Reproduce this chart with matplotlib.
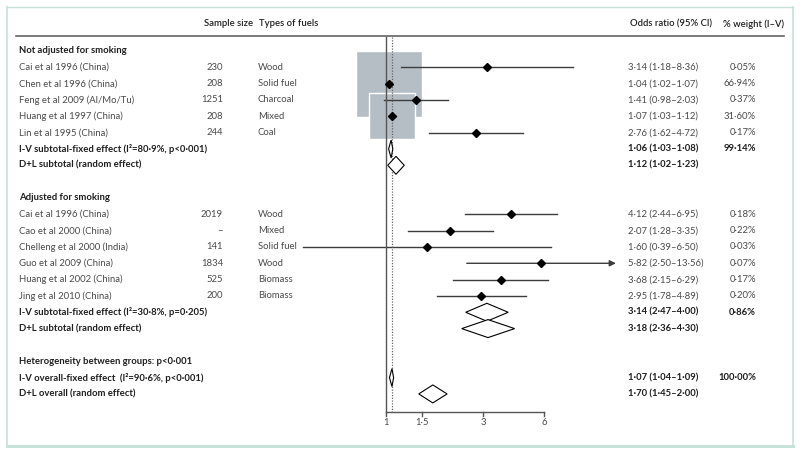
import matplotlib.pyplot as plt
import matplotlib.patches as mpatches
import numpy as np

plt.rcParams['font.family'] = ['Lato', 'DejaVu Sans']

W, H = 800, 453

# not adjusted for smoking
g1_names = ['Cai et al 1996 (China)', 'Chen et al 1996 (China)', 'Feng et al 2009 (Al/Mo/Tu)',
            'Huang et al 1997 (China)', 'Lin et al 1995 (China)']
g1_n = ['230', '208', '1251', '208', '244']
g1_fuel = ['Wood', 'Solid fuel', 'Charcoal', 'Mixed', 'Coal']
g1_or = [3.14, 1.04, 1.41, 1.07, 2.76]
g1_lo = [1.18, 1.02, 0.98, 1.03, 1.62]
g1_hi = [8.36, 1.07, 2.03, 1.12, 4.72]
g1_w = [0.05, 66.94, 0.37, 31.60, 0.17]

# adjusted for smoking
g2_names = ['Cai et al 1996 (China)', 'Cao et al 2000 (China)', 'Chelleng et al 2000 (India)',
            'Guo et al 2009 (China)', 'Huang et al 2002 (China)', 'Jing et al 2010 (China)']
g2_n = ['2019', '\u2013', '141', '1834', '525', '200']
g2_fuel = ['Wood', 'Mixed', 'Solid fuel', 'Wood', 'Biomass', 'Biomass']
g2_or = [4.12, 2.07, 1.60, 5.82, 3.68, 2.95]
g2_lo = [2.44, 1.28, 0.39, 2.50, 2.15, 1.78]
g2_hi = [6.95, 3.35, 6.50, 13.56, 6.29, 4.89]
g2_w = [0.18, 0.22, 0.03, 0.07, 0.17, 0.20]

# summary rows: label, or, lo, hi, weight
sum_labels = ['I-V subtotal-fixed effect (I\u00b2=80\u00b79%, p<0\u00b7001)',
              'D+L subtotal (random effect)',
              'I-V subtotal-fixed effect (I\u00b2=30\u00b78%, p=0\u00b7205)',
              'D+L subtotal (random effect)',
              'I-V overall-fixed effect  (I\u00b2=90\u00b76%, p<0\u00b7001)',
              'D+L overall (random effect)']
sum_or = [1.06, 1.12, 3.14, 3.18, 1.07, 1.70]
sum_lo = [1.03, 1.02, 2.47, 2.36, 1.04, 1.45]
sum_hi = [1.08, 1.23, 4.00, 4.30, 1.09, 2.00]
sum_w = [99.14, None, 0.86, None, 100.00, None]

xticks = [1, 1.5, 3, 6]
xtick_labels = ['1', '1\u00b75', '3', '6']

def fmt(v):
    return f'{v:.2f}'.replace('.', '\u00b7')

def ci_text(o, l, h):
    return f'{fmt(o)} ({fmt(l)}\u2013{fmt(h)})'

# build row list
rows = []
rows.append(dict(kind='head', label='Not adjusted for smoking'))
for i in range(len(g1_names)):
    rows.append(dict(kind='study', label=g1_names[i], n=g1_n[i], fuel=g1_fuel[i],
                     o=g1_or[i], lo=g1_lo[i], hi=g1_hi[i], w=g1_w[i]))
rows.append(dict(kind='sum', label=sum_labels[0], o=sum_or[0], lo=sum_lo[0], hi=sum_hi[0], w=sum_w[0]))
rows.append(dict(kind='sum', label=sum_labels[1], o=sum_or[1], lo=sum_lo[1], hi=sum_hi[1], w=sum_w[1]))
rows.append(dict(kind='blank'))
rows.append(dict(kind='head', label='Adjusted for smoking'))
for i in range(len(g2_names)):
    rows.append(dict(kind='study', label=g2_names[i], n=g2_n[i], fuel=g2_fuel[i],
                     o=g2_or[i], lo=g2_lo[i], hi=g2_hi[i], w=g2_w[i]))
rows.append(dict(kind='sum', label=sum_labels[2], o=sum_or[2], lo=sum_lo[2], hi=sum_hi[2], w=sum_w[2]))
rows.append(dict(kind='sum', label=sum_labels[3], o=sum_or[3], lo=sum_lo[3], hi=sum_hi[3], w=sum_w[3]))
rows.append(dict(kind='blank'))
rows.append(dict(kind='head', label='Heterogeneity between groups: p<0\u00b7001'))
rows.append(dict(kind='sum', label=sum_labels[4], o=sum_or[4], lo=sum_lo[4], hi=sum_hi[4], w=sum_w[4]))
rows.append(dict(kind='sum', label=sum_labels[5], o=sum_or[5], lo=sum_lo[5], hi=sum_hi[5], w=sum_w[5]))

# layout: row k (1-based) sits at pixel 51 + (k-1)*step
step = 16.33
def row_of_px(py):
    return (py - 51) / step + 1

px_per_dec = 203
x0 = 386
fig = plt.figure(figsize=(W / 100, H / 100), dpi=100)
ax = fig.add_axes([0, 0, 1, 1])
ax.set_xscale('log')
ax.set_xlim(10 ** (-x0 / px_per_dec), 10 ** ((W - x0) / px_per_dec))
ax.set_ylim(row_of_px(H), row_of_px(0))
ax.axis('off')
tr = ax.get_yaxis_transform()  # x axes fraction, y data

fs = 6.8
c_txt = '#4a4a4a'
c_bold = '#1e1e1e'
c_line = '#3c3c3c'

# header
yh = row_of_px(24)
ax.text(204 / W, yh, 'Sample size', transform=tr, fontsize=fs, weight='semibold', color=c_bold, va='center')
ax.text(259 / W, yh, 'Types of fuels', transform=tr, fontsize=fs, weight='semibold', color=c_bold, va='center')
ax.text(630 / W, yh, 'Odds ratio (95% CI)', transform=tr, fontsize=fs, weight='semibold', color=c_bold, va='center')
ax.text(784 / W, yh, '% weight (I\u2013V)', transform=tr, fontsize=fs, weight='semibold', color=c_bold, va='center', ha='right')
ax.plot([16 / W, 784 / W], [row_of_px(36)] * 2, transform=tr, color='#555555', lw=1.1)

ytop = row_of_px(37)
ybot = row_of_px(412)
ax.plot([1, 1], [ytop, ybot], color='#555555', lw=1.0, zorder=4)
ax.plot([sum_or[4]] * 2, [ytop, ybot], color='#666666', lw=0.9, ls=(0, (1, 1.2)), zorder=4)

# weight boxes (area ~ weight)
box_scale = 66 / np.sqrt(66.94)
for k, r in enumerate(rows, start=1):
    if r['kind'] == 'study':
        side_pt = box_scale * np.sqrt(r['w']) * 0.72
        ax.scatter([r['o']], [k], marker='s', s=side_pt ** 2, color='#b5bec5',
                   edgecolors='white', linewidths=1.0, zorder=2)

for k, r in enumerate(rows, start=1):
    kind = r['kind']
    if kind == 'blank':
        continue
    bold = kind in ('head', 'sum')
    ax.text(19 / W, k, r['label'], transform=tr, fontsize=fs, va='center',
            weight='bold' if bold else 'normal', color=c_bold if bold else c_txt)
    if kind == 'study':
        ax.text(223 / W, k, r['n'], transform=tr, fontsize=fs, va='center', ha='right', color=c_txt)
        ax.text(258 / W, k, r['fuel'], transform=tr, fontsize=fs, va='center', color=c_txt)
        ax.text(628 / W, k, ci_text(r['o'], r['lo'], r['hi']), transform=tr, fontsize=fs, va='center', color=c_txt)
        ax.text(756 / W, k, fmt(r['w']) + '%', transform=tr, fontsize=fs, va='center', ha='right', color=c_txt)
        if r['hi'] > 10:
            ax.annotate('', xy=(r['hi'], k), xytext=(r['lo'], k),
                        arrowprops=dict(arrowstyle='-|>', color=c_line, lw=1.0,
                                        mutation_scale=9, shrinkA=0, shrinkB=0), zorder=3)
        else:
            ax.plot([r['lo'], r['hi']], [k, k], color=c_line, lw=1.0, zorder=3)
        ax.plot([r['o']], [k], marker='D', ms=4.4, color='black', zorder=5)
    elif kind == 'sum':
        ax.text(628 / W, k, ci_text(r['o'], r['lo'], r['hi']), transform=tr, fontsize=fs, va='center',
                weight='bold', color=c_bold)
        if r['w'] is not None:
            ax.text(756 / W, k, fmt(r['w']) + '%', transform=tr, fontsize=fs, va='center', ha='right',
                    weight='bold', color=c_bold)
        h = 0.55
        dia = mpatches.Polygon([(r['lo'], k), (r['o'], k - h), (r['hi'], k), (r['o'], k + h)],
                               closed=True, facecolor='white', edgecolor='black', lw=0.8, zorder=5)
        ax.add_patch(dia)

# x axis
ax.plot([xticks[0], xticks[-1]], [ybot, ybot], color='#555555', lw=1.0)
tick_len = 4 / step
for t, lab in zip(xticks, xtick_labels):
    ax.plot([t, t], [ybot, ybot + tick_len], color='#555555', lw=1.0)
    ax.text(t, row_of_px(423), lab, fontsize=fs, ha='center', va='center', color=c_txt)

# frame
fc = '#c6e2d9'
fig.add_artist(plt.Line2D([7 / W, 7 / W], [1 - 7 / H, 1 - 446 / H], color=fc, lw=1.2))
fig.add_artist(plt.Line2D([793 / W, 793 / W], [1 - 7 / H, 1 - 446 / H], color=fc, lw=1.2))
fig.add_artist(plt.Line2D([7 / W, 793 / W], [1 - 7 / H, 1 - 7 / H], color=fc, lw=1.0))
fig.add_artist(plt.Line2D([7 / W, 793 / W], [1 - 446 / H, 1 - 446 / H], color=fc, lw=2.2))

fig.savefig('out.png', dpi=100)
